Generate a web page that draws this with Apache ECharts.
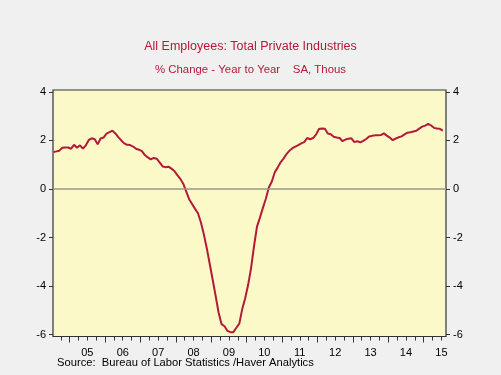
<!DOCTYPE html>
<html>
<head>
<meta charset="utf-8">
<script src="https://cdn.jsdelivr.net/npm/echarts@6/dist/echarts.min.js"></script>
<style>
html,body{margin:0;padding:0;background:#f0f0f0;}
#c{width:501px;height:375px;}
</style>
</head>
<body>
<div id="c"></div>
<script>
// Monthly data, Jul 2004 .. Jul 2015 (% change, year to year)
var startYear = 2004, startMonth = 7;
var values = [
 1.52,1.55,1.58,1.70,1.71,1.71,
 1.66,1.82,1.70,1.80,1.66,1.80,2.02,2.09,2.05,1.84,2.08,2.12,
 2.28,2.34,2.40,2.29,2.14,2.00,1.88,1.82,1.81,1.75,1.66,1.62,
 1.56,1.40,1.30,1.22,1.28,1.25,1.10,0.93,0.90,0.92,0.84,0.74,
 0.57,0.42,0.22,-0.10,-0.42,-0.62,-0.82,-1.00,-1.38,-1.88,-2.45,-3.10,
 -3.75,-4.42,-5.10,-5.57,-5.66,-5.85,-5.90,-5.90,-5.72,-5.55,-4.95,-4.50,
 -3.95,-3.25,-2.35,-1.55,-1.18,-0.78,-0.40,0.06,0.30,0.68,0.88,1.10,
 1.25,1.44,1.58,1.68,1.75,1.81,1.88,1.93,2.10,2.05,2.10,2.24,
 2.47,2.49,2.48,2.29,2.26,2.15,2.12,2.10,1.97,2.04,2.07,2.09,
 1.93,1.97,1.92,1.98,2.06,2.16,2.19,2.21,2.21,2.22,2.29,2.20,
 2.12,2.01,2.08,2.13,2.17,2.25,2.32,2.34,2.37,2.40,2.49,2.57,
 2.61,2.68,2.62,2.52,2.49,2.48,2.41
];
var yearLabels = ['05','06','07','08','09','10','11','12','13','14','15'];
var firstYear = 2005;
var yTicks = [-6,-4,-2,0,2,4];

var titleText = 'All Employees: Total Private Industries';
var subtitleText = '% Change - Year to Year    SA, Thous';
var sourceText = 'Source:  Bureau of Labor Statistics /Haver Analytics';

// build [x, y] pairs: month plotted at mid-month
var seriesData = values.map(function (v, i) {
  var m = startMonth - 1 + i;
  var yr = startYear + Math.floor(m / 12);
  var mo = m % 12;
  return [yr + (mo + 0.5) / 12, v];
});

var yearStarts = yearLabels.map(function (s, i) { return firstYear + i; });
var yearMids = yearLabels.map(function (s, i) { return firstYear + i + 0.5; });
var quarterTicks = [];
for (var q = 2004.75; q < 2015.63; q += 0.25) quarterTicks.push(+q.toFixed(2));

var X_MIN = 2004.53, X_MAX = 2015.63, Y_MIN = -6.08, Y_MAX = 4.08;
var font = 'Arial, "Liberation Sans", sans-serif';
var red = '#b41a38';

var chart = echarts.init(document.getElementById('c'), null, {renderer: 'canvas'});
chart.setOption({
  backgroundColor: '#f0f0f0',
  animation: false,
  title: [
    {text: titleText, left: 'center', top: 35,
     textStyle: {fontFamily: font, fontSize: 12.5, fontWeight: 'normal', color: red}},
    {text: subtitleText, left: 'center', top: 59,
     textStyle: {fontFamily: font, fontSize: 11.4, fontWeight: 'normal', color: red}},
    {text: sourceText, left: 52, top: 352,
     textStyle: {fontFamily: font, fontSize: 11.2, fontWeight: 'normal', color: '#000'}}
  ],
  grid: {left: 53, right: 55, top: 90, bottom: 38.5, show: true,
         backgroundColor: '#fbf9c8', borderColor: '#333', borderWidth: 1.2},
  xAxis: [
    {type: 'value', min: X_MIN, max: X_MAX, position: 'bottom',
     axisLine: {show: false, onZero: false}, splitLine: {show: false},
     axisTick: {show: true, length: 4, lineStyle: {color: '#333'}, customValues: quarterTicks},
     axisLabel: {show: false}},
    {type: 'value', min: X_MIN, max: X_MAX, position: 'bottom',
     axisLine: {show: false, onZero: false}, splitLine: {show: false},
     axisTick: {show: true, length: 6, lineStyle: {color: '#333'}, customValues: yearStarts},
     axisLabel: {show: true, customValues: yearMids, margin: 11,
       fontFamily: font, fontSize: 11, color: '#000',
       formatter: function (v) { return yearLabels[Math.floor(v) - firstYear]; }}}
  ],
  yAxis: [
    {type: 'value', min: Y_MIN, max: Y_MAX, position: 'left',
     axisLine: {show: false, onZero: false}, splitLine: {show: false},
     axisTick: {show: true, length: 4, lineStyle: {color: '#333'}, customValues: yTicks},
     axisLabel: {show: true, customValues: yTicks, margin: 7, fontFamily: font, fontSize: 11, color: '#000'}},
    {type: 'value', min: Y_MIN, max: Y_MAX, position: 'right',
     axisLine: {show: false, onZero: false}, splitLine: {show: false},
     axisTick: {show: true, length: 4, lineStyle: {color: '#333'}, customValues: yTicks},
     axisLabel: {show: true, customValues: yTicks, margin: 7, fontFamily: font, fontSize: 11, color: '#000'}}
  ],
  series: [{
    type: 'line', xAxisIndex: 0, yAxisIndex: 0, data: seriesData,
    showSymbol: false, symbol: 'none',
    lineStyle: {color: red, width: 2},
    markLine: {silent: true, symbol: 'none', label: {show: false},
      lineStyle: {color: '#999982', width: 1.5, type: 'solid'},
      data: [{yAxis: 0}]},
    z: 3
  }]
});
</script>
</body>
</html>
